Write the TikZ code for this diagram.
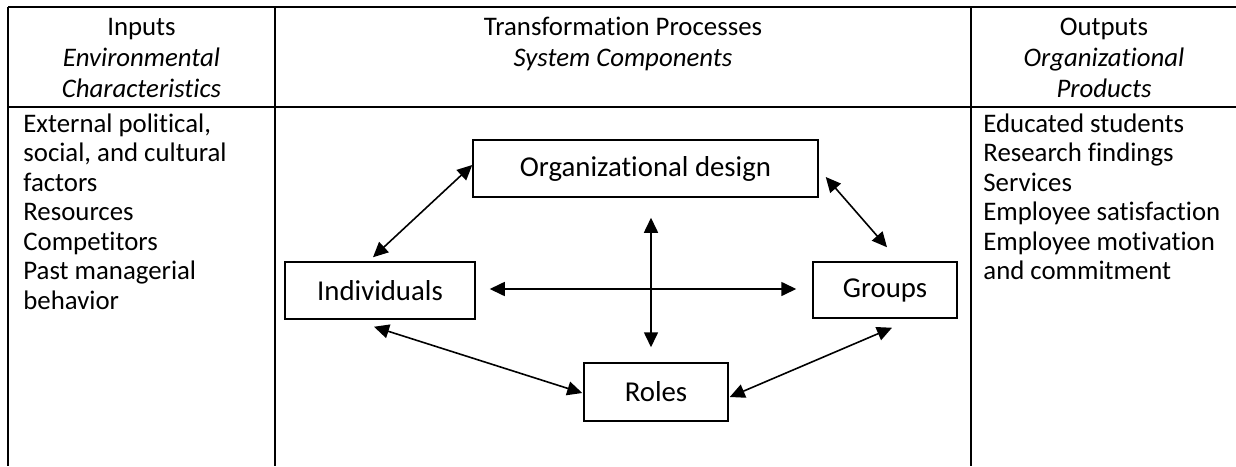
\documentclass[tikz,border=0pt]{standalone}
\usepackage{fontspec}
\setmainfont{Carlito}[Ligatures=NoCommon]
\usetikzlibrary{arrows.meta}
\begin{document}
\begin{tikzpicture}[x=0.5pt,y=-0.5pt,
  rule/.style={line width=0.75pt},
  cell/.style={font=\fontsize{13.4}{16}\selectfont, inner sep=0pt},
  hd/.style={cell, anchor=base},
  hdi/.style={hd, font=\fontsize{13.4}{16}\selectfont\itshape},
  item/.style={cell, anchor=base west},
  comp/.style={draw, line width=0.75pt, font=\fontsize{14.4}{17}\selectfont, inner sep=0pt},
  link/.style={line width=0.8pt, {Triangle[length=7.5pt,width=7pt]}-{Triangle[length=7.5pt,width=7pt]}}
]
\useasboundingbox (0,0) rectangle (1236,466);

% table rules
\draw[rule] (8,7) -- (1236,7);
\draw[rule] (8,107) -- (1236,107);
\draw[rule] (8,7) -- (8,466);
\draw[rule] (275,7) -- (275,466);
\draw[rule] (971,7) -- (971,466);

% column headings
\node[hd]  (inA)  at (141.5,35) {Inputs};
\node[hdi] (inB)  at (141.5,66) {Environmental};
\node[hdi] (inC)  at (141.5,97) {Characteristics};
\node[hd]  (trA)  at (623,35) {Transformation Processes};
\node[hdi] (trB)  at (623,66) {System Components};
\node[hd]  (outA) at (1104,35) {Outputs};
\node[hdi] (outB) at (1104,66) {Organizational};
\node[hdi] (outC) at (1104,97) {Products};

% inputs list
\foreach \t [count=\i] in {{External political,},{social, and cultural},factors,Resources,Competitors,{Past managerial},behavior}
  \node[item] (inp\i) at (23,{132+29.5*(\i-1)}) {\t};

% outputs list
\foreach \t [count=\i] in {{Educated students},{Research findings},Services,{Employee satisfaction},{Employee motivation},{and commitment}}
  \node[item] (outp\i) at (983,{132+29.5*(\i-1)}) {\t};

% system components
\node[comp, minimum width=172.5pt, minimum height=28.5pt] (org) at (645.5,168.5) {Organizational design};
\node[comp, minimum width=95pt, minimum height=28.5pt] (ind) at (380,290.5) {Individuals};
\node[comp, minimum width=72pt, minimum height=28pt] (grp) at (885,290) {Groups};
\node[comp, minimum width=72pt, minimum height=29pt] (rol) at (656,392) {Roles};

% interactions
\draw[link] ([shift={(-7,-4)}]ind.north) -- ([shift={(0,-3.5)}]org.west);
\draw[link] ([shift={(7,8.5)}]org.east) -- ([shift={(2,-14)}]grp.north);
\draw[link] ([shift={(-6,7)}]ind.south) -- ([shift={(-1,1)}]rol.west);
\draw[link] ([shift={(7,9)}]grp.south) -- ([shift={(1,5)}]rol.east);
\draw[link] ([shift={(14,-1.5)}]ind.east) -- ([shift={(-16,-1)}]grp.west);
\draw[link] ([shift={(5.5,20)}]org.south) -- ([shift={(-5,-15)}]rol.north);
\end{tikzpicture}
\end{document}
